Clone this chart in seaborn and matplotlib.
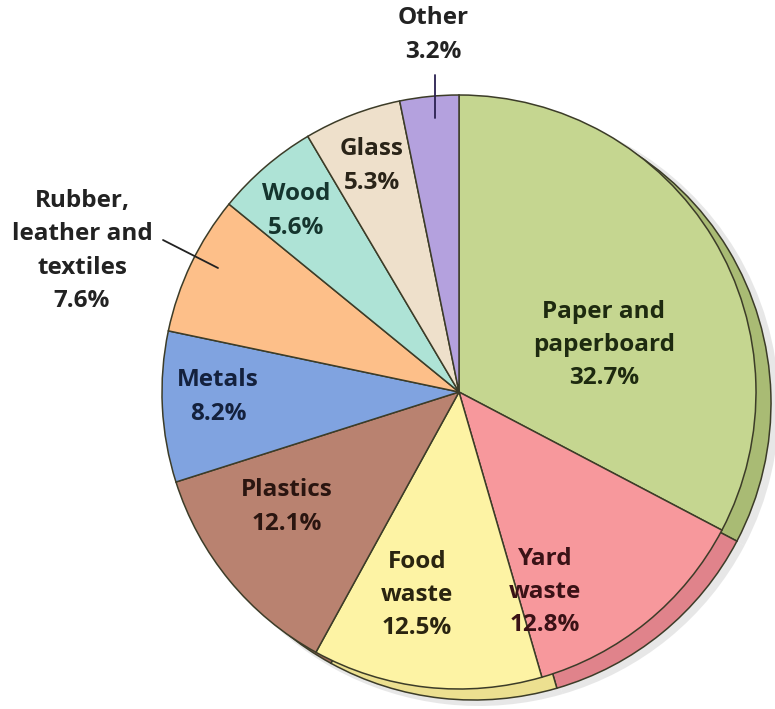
import matplotlib
matplotlib.use("Agg")
import matplotlib.pyplot as plt
import seaborn as sns

sns.set_theme(style="white")
plt.rcParams['font.family'] = ['Open Sans', 'DejaVu Sans']

categories = ["Paper and\npaperboard", "Yard\nwaste", "Food\nwaste", "Plastics", "Metals",
              "Rubber,\nleather and\ntextiles", "Wood", "Glass", "Other"]
values = [32.7, 12.8, 12.5, 12.1, 8.2, 7.6, 5.6, 5.3, 3.2]

colors = ["#c5d690", "#f7989c", "#fdf3a4", "#b98270", "#80a3e0",
          "#fdbf89", "#aee3d6", "#eee0cb", "#b4a1de"]
shadow_colors = ["#a9bb74", "#e0838b", "#ece090", "#a06a5a", "#6a8cc8",
                 "#e5a670", "#90c8ba", "#d8c9b2", "#9a88c6"]
text_colors = ["#1e2a10", "#3a1216", "#2a2410", "#2a1510", "#14213d",
               "#222222", "#15352e", "#2a2418", "#222222"]

# label layout (pixel coords, y from top)
label_pos = [(604, 345), (545, 592), (417, 595), (287, 507), (218, 397),
             (82, 251), (296, 211), (372, 166), (433, 35)]

W, H = 775, 709
cx, cy, R = 459, 392, 297

fig = plt.figure(figsize=(W / 100, H / 100), dpi=100)
ax = fig.add_axes([0, 0, 1, 1])

# soft drop shadow
ax.pie(values, radius=R + 3, center=(cx + 20, H - cy - 14), startangle=90, counterclock=False,
       colors=["#d8d8d8"] * len(values), wedgeprops=dict(linewidth=0, alpha=0.6))
# 3D extrusion
ax.pie(values, radius=R, center=(cx + 15, H - cy - 11), startangle=90, counterclock=False,
       colors=shadow_colors, wedgeprops=dict(edgecolor="#3c3c28", linewidth=1.1))
# main pie
ax.pie(values, radius=R, center=(cx, H - cy), startangle=90, counterclock=False,
       colors=colors, wedgeprops=dict(edgecolor="#3c3c28", linewidth=1.1))

for cat, v, (x, y), tc in zip(categories, values, label_pos, text_colors):
    ax.text(x, H - y, f"{cat}\n{v:.1f}%", ha="center", va="center", fontsize=17.5,
            fontweight="bold", color=tc, linespacing=1.52)

# leader lines
ax.plot([435, 435], [H - 75, H - 118], color="#2a2050", lw=1.3)
ax.plot([163, 218], [H - 240, H - 268], color="#222222", lw=1.3)

ax.set_xlim(0, W)
ax.set_ylim(0, H)
ax.set_aspect("equal")
ax.axis("off")
fig.savefig("out.png", dpi=100, facecolor="white")
